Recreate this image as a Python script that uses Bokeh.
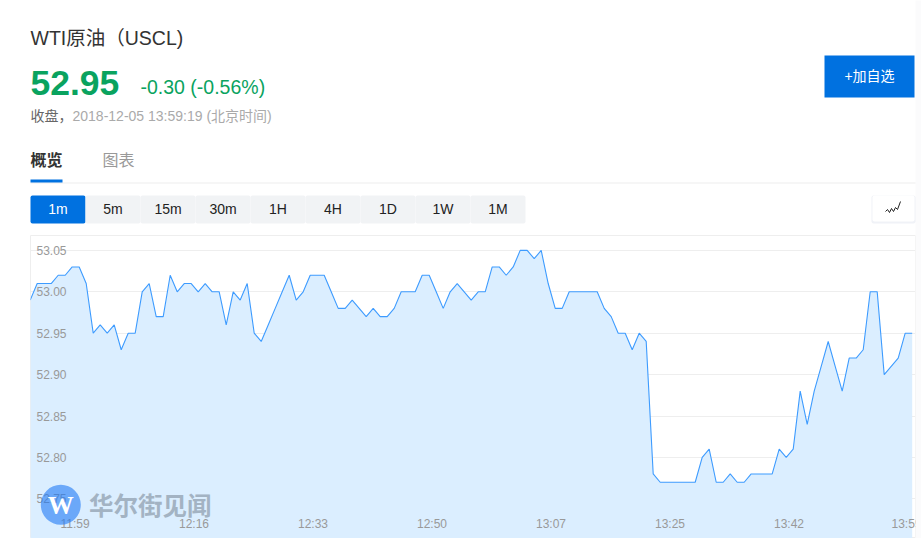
from bokeh.plotting import figure
from bokeh.models import FixedTicker, NumeralTickFormatter, Range1d
from bokeh.core.properties import value
from bokeh.embed import file_html
from bokeh.resources import INLINE

prices = [52.99, 53.01, 53.01, 53.01, 53.02, 53.02, 53.03, 53.03, 53.01, 52.95,
          52.96, 52.95, 52.96, 52.93, 52.95, 52.95, 53.00, 53.01, 52.97, 52.97,
          53.02, 53.00, 53.01, 53.01, 53.00, 53.01, 53.00, 53.00, 52.96, 53.00,
          52.99, 53.01, 52.95, 52.94, 52.96, 52.98, 53.00, 53.02, 52.99, 53.00,
          53.02, 53.02, 53.02, 53.00, 52.98, 52.98, 52.99, 52.98, 52.97, 52.98,
          52.97, 52.97, 52.98, 53.00, 53.00, 53.00, 53.02, 53.02, 53.00, 52.98,
          53.00, 53.01, 53.00, 52.99, 53.00, 53.00, 53.03, 53.03, 53.02, 53.03,
          53.05, 53.05, 53.04, 53.05, 53.01, 52.98, 52.98, 53.00, 53.00, 53.00,
          53.00, 53.00, 52.98, 52.97, 52.95, 52.95, 52.93, 52.95, 52.94, 52.78,
          52.77, 52.77, 52.77, 52.77, 52.77, 52.77, 52.80, 52.81, 52.77, 52.77,
          52.78, 52.77, 52.77, 52.78, 52.78, 52.78, 52.78, 52.81, 52.80, 52.81,
          52.88, 52.84, 52.88, 52.91, 52.94, 52.91, 52.88, 52.92, 52.92, 52.93,
          53.00, 53.00, 52.90, 52.91, 52.92, 52.95, 52.95]
indices = list(range(len(prices)))
time_labels = ["11:59", "12:16", "12:33", "12:50", "13:07", "13:25", "13:42", "13:59"]
price_ticks = [52.75, 52.80, 52.85, 52.90, 52.95, 53.00, 53.05]
periods = ["1m", "5m", "15m", "30m", "1H", "4H", "1D", "1W", "1M"]

BLUE = "#0071e0"
GREEN = "#0aa35f"
STRIP = "#fbfbfc"
FONT = "Liberation Sans, Noto Sans CJK SC"

W, H = 921, 538
px_step = 7.0
x_first = 29.7
y_zero = 291.3
y_scale = 828.0


def to_x(px):
    return (px - x_first) / px_step


def to_y(py):
    return 53.0 - (py - y_zero) / y_scale


p = figure(width=W, height=H, x_range=Range1d(to_x(30), to_x(915)),
           y_range=Range1d(to_y(538), to_y(235)), output_backend="svg",
           toolbar_location=None, min_border_left=30, min_border_right=W - 915,
           min_border_top=235, min_border_bottom=0, outline_line_color="#eeeeee")
p.extra_x_ranges = {"px": Range1d(30, 915)}
p.extra_y_ranges = {"px": Range1d(538, 235)}
PX = dict(x_range_name="px", y_range_name="px", level="overlay")


def txt(x, y, s, size, color, bold=False, align="left"):
    p.text(x=[x], y=[y], text=[s], text_font=value(FONT), text_font_size=f"{size}px",
           text_color=color, text_align=align, text_baseline="middle",
           text_font_style="bold" if bold else "normal", **PX)


p.varea(x=indices, y1=[to_y(560)] * len(indices), y2=prices, fill_color="#dbeeff", fill_alpha=1)
p.line(x=indices, y=prices, line_color="#3d9bff", line_width=1.1)

p.xgrid.visible = False
p.ygrid.grid_line_color = "#eeeeee"
p.ygrid.grid_line_width = 1
p.ygrid.ticker = FixedTicker(ticks=price_ticks)

ya = p.yaxis[0]
ya.ticker = FixedTicker(ticks=price_ticks)
ya.formatter = NumeralTickFormatter(format="0.00")
ya.axis_line_color = None
ya.major_tick_line_color = None
ya.minor_tick_line_color = None
ya.major_label_standoff = -42
ya.major_label_text_color = "#999999"
ya.major_label_text_font = FONT
ya.major_label_text_font_size = "12px"

tick_pos = [to_x(74.5) + 17 * k for k in range(len(time_labels))]
xa = p.xaxis[0]
xa.ticker = FixedTicker(ticks=tick_pos)
xa.major_label_overrides = dict(zip(tick_pos, time_labels))
xa.axis_line_color = None
xa.major_tick_line_color = None
xa.minor_tick_line_color = None
xa.major_label_standoff = -28
xa.major_label_text_color = "#999999"
xa.major_label_text_font = FONT
xa.major_label_text_font_size = "12px"

# watermark
p.scatter(x=[60.3], y=[504.3], size=40, marker="circle", fill_color="#2079f5",
          fill_alpha=0.6, line_color=None, **PX)
p.text(x=[60.3], y=[504.5], text=["W"], text_font=value("Liberation Serif"),
       text_font_style="bold", text_font_size="26px", text_color="#ffffff",
       text_align="center", text_baseline="middle", **PX)
p.text(x=[88.5], y=[504], text=["华尔街见闻"], text_font=value("Noto Sans CJK SC"),
       text_font_style="bold", text_font_size="24.5px", text_color="#a3b3c3",
       text_align="left", text_baseline="middle", **PX)

# the page cuts the chart at its right edge
p.quad(left=[915], right=[930], top=[0], bottom=[540], fill_color=STRIP, line_color=None, **PX)

# header
txt(30, 37, "WTI原油（USCL)", 19.5, "#333333")
txt(30, 82, "52.95", 35.5, GREEN, bold=True)
txt(140, 86, "-0.30 (-0.56%)", 19.5, GREEN)
txt(30, 115, "收盘，", 14, "#666666")
txt(72, 115, "2018-12-05 13:59:19 (北京时间)", 14, "#aaaaaa")
txt(30, 160, "概览", 16, "#333333", bold=True)
txt(102, 160, "图表", 16, "#999999")

p.quad(left=[30], right=[915], top=[182], bottom=[183], fill_color="#eeeeee", line_color=None, **PX)
p.quad(left=[30], right=[62], top=[179], bottom=[182], fill_color=BLUE, line_color=None, **PX)

p.quad(left=[824], right=[914], top=[55], bottom=[97], fill_color=BLUE, line_color=None, **PX)
txt(869, 75, "+加自选", 14, "#ffffff", align="center")

for k, name in enumerate(periods):
    x0 = 30 + 55 * k
    active = k == 0
    p.quad(left=[x0], right=[x0 + 55], top=[195], bottom=[223],
           fill_color=BLUE if active else "#f1f3f5",
           line_color=None, border_radius=2, **PX)
    txt(x0 + 27.5, 208, name, 14, "#ffffff" if active else "#222222", align="center")

p.quad(left=[871], right=[915], top=[195], bottom=[223], fill_color="#e6eaf2",
       line_color=None, border_radius=2, fill_alpha=0.6, **PX)
p.quad(left=[872], right=[914], top=[195], bottom=[221], fill_color="#ffffff",
       line_color=None, border_radius=2, **PX)
p.line(x=[885, 887, 889, 891, 893, 895, 897, 900], y=[211, 209, 212, 208, 211, 207, 209, 201],
       line_color="#222222", line_width=1, **PX)

open("out.html", "w").write(file_html(p, INLINE))
